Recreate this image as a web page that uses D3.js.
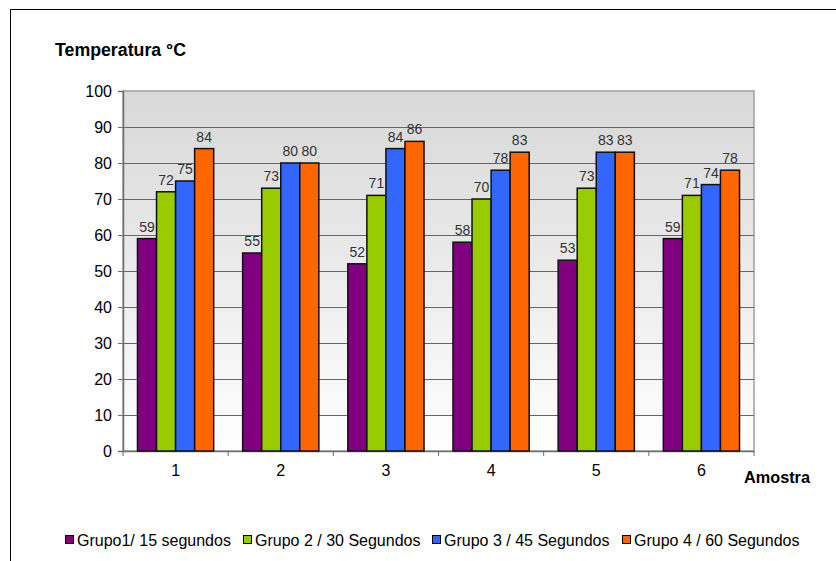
<!DOCTYPE html>
<html>
<head>
<meta charset="utf-8">
<script src="https://cdn.jsdelivr.net/npm/d3@7"></script>
<style>
  html, body { margin: 0; padding: 0; background: #fff; }
  svg { display: block; font-family: "Liberation Sans", Arial, sans-serif; }
</style>
</head>
<body>
<svg id="chart" width="836" height="561"></svg>
<script>
// Sample numbers (Amostra) on the x axis
const categories = ["1", "2", "3", "4", "5", "6"];
// Temperature readings (°C) for each group
const grupo1 = [59, 55, 52, 58, 53, 59];
const grupo2 = [72, 73, 71, 70, 73, 71];
const grupo3 = [75, 80, 84, 78, 83, 74];
const grupo4 = [84, 80, 86, 83, 83, 78];
const seriesNames = ["Grupo1/ 15 segundos", "Grupo 2 / 30 Segundos", "Grupo 3 / 45 Segundos", "Grupo 4 / 60 Segundos"];
const seriesColors = ["#800080", "#99cc00", "#3366ff", "#ff6600"];
const yTicks = [0, 10, 20, 30, 40, 50, 60, 70, 80, 90, 100];

const seriesValues = [grupo1, grupo2, grupo3, grupo4];

const svg = d3.select("#chart");
const plot = { left: 123, right: 754, top: 91, bottom: 451 };

// Outer frame (open to the right and bottom)
svg.append("path")
  .attr("d", "M10.5,561 L10.5,9.5 L836,9.5")
  .attr("fill", "none").attr("stroke", "#000").attr("stroke-width", 1);

const x = d3.scaleBand().domain(categories).range([plot.left, plot.right]).paddingInner(0).paddingOuter(0);
const xInner = d3.scaleBand().domain(d3.range(seriesValues.length))
  .range([0, x.bandwidth()]).paddingOuter(0.76).paddingInner(0);
const y = d3.scaleLinear().domain([0, 100]).range([plot.bottom, plot.top]);

// Plot background gradient
const defs = svg.append("defs");
const grad = defs.append("linearGradient").attr("id", "bg").attr("x1", 0).attr("y1", 0).attr("x2", 0).attr("y2", 1);
grad.append("stop").attr("offset", "0%").attr("stop-color", "#d9d9d9");
grad.append("stop").attr("offset", "12%").attr("stop-color", "#dcdcdc");
grad.append("stop").attr("offset", "100%").attr("stop-color", "#ffffff");

svg.append("rect")
  .attr("x", plot.left).attr("y", plot.top)
  .attr("width", plot.right - plot.left).attr("height", plot.bottom - plot.top)
  .attr("fill", "url(#bg)").attr("stroke", "#a0a0a0").attr("stroke-width", 1.5);

// Horizontal gridlines
svg.append("g").selectAll("line").data(yTicks.filter(d => d > 0 && d < 100)).join("line")
  .attr("x1", plot.left).attr("x2", plot.right)
  .attr("y1", d => Math.round(y(d)) + 0.5).attr("y2", d => Math.round(y(d)) + 0.5)
  .attr("stroke", "#666").attr("stroke-width", 1);

// Y axis
const yAxis = svg.append("g").attr("transform", `translate(${plot.left},0)`)
  .call(d3.axisLeft(y).tickValues(yTicks).tickSize(5).tickPadding(6));
yAxis.select(".domain").attr("stroke", "#707070").attr("stroke-width", 1.5);
yAxis.selectAll(".tick line").attr("stroke", "#707070");
yAxis.selectAll(".tick text").attr("font-size", 16).attr("fill", "#000")
  .attr("font-family", "Liberation Sans, Arial, sans-serif");

// X axis
const xAxis = svg.append("g").attr("transform", `translate(0,${plot.bottom})`)
  .call(d3.axisBottom(x).tickSize(0).tickPadding(14));
xAxis.select(".domain").attr("stroke", "#707070").attr("stroke-width", 1.5);
xAxis.selectAll(".tick text").attr("font-size", 16).attr("fill", "#000")
  .attr("font-family", "Liberation Sans, Arial, sans-serif");
// Category separator ticks
svg.append("g").selectAll("line").data(d3.range(categories.length + 1)).join("line")
  .attr("x1", i => plot.left + i * x.bandwidth()).attr("x2", i => plot.left + i * x.bandwidth())
  .attr("y1", plot.bottom).attr("y2", plot.bottom + 5)
  .attr("stroke", "#707070").attr("stroke-width", 1);

// Bars
const groups = svg.append("g").selectAll("g").data(categories).join("g")
  .attr("transform", d => `translate(${x(d)},0)`);
groups.selectAll("rect").data((d, i) => seriesValues.map((s, k) => ({ k, v: s[i] }))).join("rect")
  .attr("x", d => xInner(d.k)).attr("width", xInner.bandwidth())
  .attr("y", d => y(d.v)).attr("height", d => plot.bottom - y(d.v))
  .attr("fill", d => seriesColors[d.k]).attr("stroke", "#111").attr("stroke-width", 1.5);
groups.selectAll("text").data((d, i) => seriesValues.map((s, k) => ({ k, v: s[i] }))).join("text")
  .attr("x", d => xInner(d.k) + xInner.bandwidth() / 2).attr("y", d => y(d.v) - 7)
  .attr("text-anchor", "middle").attr("font-size", 14).attr("fill", "#333")
  .text(d => d.v);

// Axis titles
svg.append("text").attr("x", 55).attr("y", 56).attr("font-size", 17.5).attr("font-weight", "bold")
  .attr("textLength", 131).attr("lengthAdjust", "spacingAndGlyphs")
  .text("Temperatura °C");
svg.append("text").attr("x", 744).attr("y", 483).attr("font-size", 16).attr("font-weight", "bold")
  .attr("textLength", 66).attr("lengthAdjust", "spacingAndGlyphs")
  .text("Amostra");

// Legend
const legendX = [65, 243, 432, 622];
const legend = svg.append("g").selectAll("g").data(seriesNames).join("g")
  .attr("transform", (d, i) => `translate(${legendX[i]},540)`);
legend.append("rect").attr("x", 0.5).attr("y", -4.5).attr("width", 8).attr("height", 8)
  .attr("fill", (d, i) => seriesColors[i]).attr("stroke", "#000").attr("stroke-width", 1);
legend.append("text").attr("x", 12).attr("y", 5.5).attr("font-size", 16).attr("fill", "#000")
  .text(d => d);
</script>
</body>
</html>
